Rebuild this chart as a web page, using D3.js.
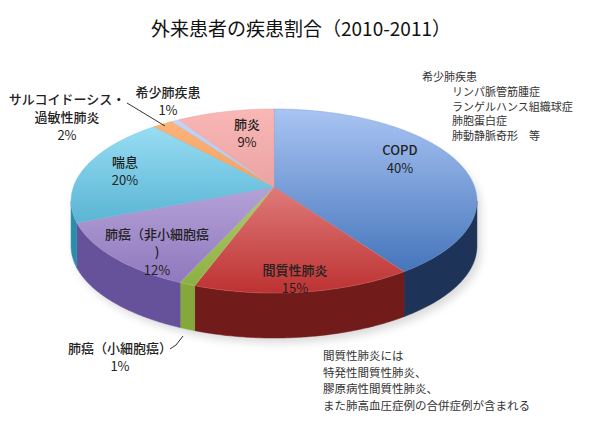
<!DOCTYPE html>
<html>
<head>
<meta charset="utf-8">
<script src="https://cdn.jsdelivr.net/npm/d3@7"></script>
<style>
  body { margin: 0; background: #fff; }
  text { font-family: "Noto Sans CJK JP", "Noto Sans", sans-serif; }
</style>
</head>
<body>
<div id="chart"></div>
<script>
// data (share of outpatients, %)
const categories = ['COPD', '間質性肺炎', '肺癌（小細胞癌）', '肺癌（非小細胞癌）', '喘息', 'サルコイドーシス・過敏性肺炎', '希少肺疾患', '肺炎'];
const values = [40.4, 15.1, 1.1, 12.3, 19.5, 1.9, 0.7, 9.0];
const labelLines = [['COPD'], ['間質性肺炎'], ['肺癌（小細胞癌）'], ['肺癌（非小細胞癌', ')'], ['喘息'], ['サルコイドーシス・', '過敏性肺炎'], ['希少肺疾患'], ['肺炎']];
const rareNotes = ['リンパ脈管筋腫症', 'ランゲルハンス組織球症', '肺胞蛋白症', '肺動静脈奇形　等'];
const ildNotes = ['間質性肺炎には', '特発性間質性肺炎、', '膠原病性間質性肺炎、', 'また肺高血圧症例の合併症例が含まれる'];

const width = 600, height = 428;

const topLight = d3.scaleOrdinal().domain(categories)
    .range(['#a9c4f3', '#f7b0ae', '#cbe391', '#d2c3ec', '#a4e4f9', '#fcb680', '#c6d6f6', '#f9b7b6']);
const topDark = d3.scaleOrdinal().domain(categories)
    .range(['#386bb4', '#bd3232', '#8aae3e', '#8c74bb', '#2b98bd', '#ee8630', '#93b1e6', '#d68888']);
const sideColor = d3.scaleOrdinal().domain(categories)
    .range(['#1d3458', '#721b1b', '#84a83b', '#66529a', '#2c8cab', '#c96d20', '#6f8cc0', '#a86060']);

// perspective disk
const cx = 274, cy = 187, A = 200.6, B = 89.9, k = 0.152, depth = 45;
function proj(t, drop) {
    const den = 1 + k * Math.cos(t);
    return [cx + A * Math.sin(t) / den, cy - B * Math.cos(t) / den + (drop || 0)];
}
function rim(a0, a1, drop) {
    const n = Math.max(2, Math.ceil((a1 - a0) / 0.01));
    return d3.range(n + 1).map(i => proj(a0 + (a1 - a0) * i / n, drop));
}
const line = d3.line();
const tL = Math.acos(-k), tR = 2 * Math.PI - Math.acos(-k);

const svg = d3.select('#chart').append('svg')
    .attr('width', width).attr('height', height);

const defs = svg.append('defs');
defs.append('filter').attr('id', 'shadow')
    .attr('x', '-20%').attr('y', '-20%').attr('width', '140%').attr('height', '140%')
    .append('feGaussianBlur').attr('stdDeviation', 4);

const pie = d3.pie().sort(null).value(d => d);
const arcs = pie(values).map((d, i) => ({ ...d, key: categories[i] }));

arcs.forEach((d, i) => {
    const g = defs.append('linearGradient').attr('id', 'top' + i)
        .attr('gradientUnits', 'userSpaceOnUse')
        .attr('x1', 0).attr('y1', cy - B / (1 + k)).attr('x2', 0).attr('y2', cy + B / (1 - k));
    g.append('stop').attr('offset', '0%').attr('stop-color', topLight(d.key));
    g.append('stop').attr('offset', '100%').attr('stop-color', topDark(d.key));
});

// soft shadow under the pie
svg.append('path')
    .attr('d', line(rim(tL, tR, depth + 3).concat(rim(tR, tL + 2 * Math.PI, depth - 40))) + 'Z')
    .attr('transform', 'translate(4,2)')
    .attr('fill', '#000').attr('opacity', 0.14)
    .attr('filter', 'url(#shadow)');

// sides
svg.append('g').selectAll('path')
    .data(arcs.filter(d => d.endAngle > tL && d.startAngle < tR))
    .join('path')
    .attr('d', d => {
        const s0 = Math.max(d.startAngle, tL), s1 = Math.min(d.endAngle, tR);
        return line(rim(s0, s1, 0).concat(rim(s0, s1, depth).reverse())) + 'Z';
    })
    .attr('fill', d => sideColor(d.key))
    .attr('stroke', d => sideColor(d.key)).attr('stroke-width', 0.5);

// tops
svg.append('g').selectAll('path')
    .data(arcs)
    .join('path')
    .attr('d', d => line([[cx, cy]].concat(rim(d.startAngle, d.endAngle, 0))) + 'Z')
    .attr('fill', (d, i) => `url(#top${i})`)
    .attr('stroke', (d, i) => d3.interpolateRgb(topLight(d.key), topDark(d.key))(0.5))
    .attr('stroke-width', 0.4);

// labels: centre of each text block
const labelPos = [[400, 150], [295, 270], [120, 348], [157, 234], [125, 162], [67, 99], [168, 92], [247, 124]];
const lab = svg.append('g').attr('font-size', 13).attr('fill', '#222').attr('text-anchor', 'middle');
arcs.forEach((d, i) => {
    const lines = labelLines[i].concat([Math.round(d.value) + '%']);
    lines.forEach((s, j) => {
        lab.append('text')
            .attr('x', labelPos[i][0]).attr('y', labelPos[i][1] + j * 18)
            .attr('dy', '0.35em')
            .attr('font-weight', j < lines.length - 1 ? 500 : 400)
            .text(s);
    });
});

// leader lines
svg.append('path').attr('d', 'M127,103L165,126')
    .attr('stroke', '#333').attr('fill', 'none').attr('stroke-width', 1);
svg.append('path').attr('d', 'M170,349L176,345L183,336')
    .attr('stroke', '#333').attr('fill', 'none').attr('stroke-width', 1);

// title
svg.append('text')
    .attr('x', 301).attr('y', 29).attr('dy', '0.35em')
    .attr('text-anchor', 'middle').attr('font-size', 19).attr('fill', '#111')
    .text('外来患者の疾患割合（2010-2011）');

// notes
const notes = svg.append('g').attr('font-size', 11).attr('fill', '#333');
notes.append('text').attr('x', 422).attr('y', 77).attr('dy', '0.35em').text('希少肺疾患');
rareNotes.forEach((s, i) => {
    notes.append('text').attr('x', 452).attr('y', 92 + i * 14.8).attr('dy', '0.35em').text(s);
});
const notes2 = svg.append('g').attr('font-size', 11.5).attr('fill', '#333');
ildNotes.forEach((s, i) => {
    notes2.append('text').attr('x', 323).attr('y', 356 + i * 16.5).attr('dy', '0.35em').text(s);
});
</script>
</body>
</html>
